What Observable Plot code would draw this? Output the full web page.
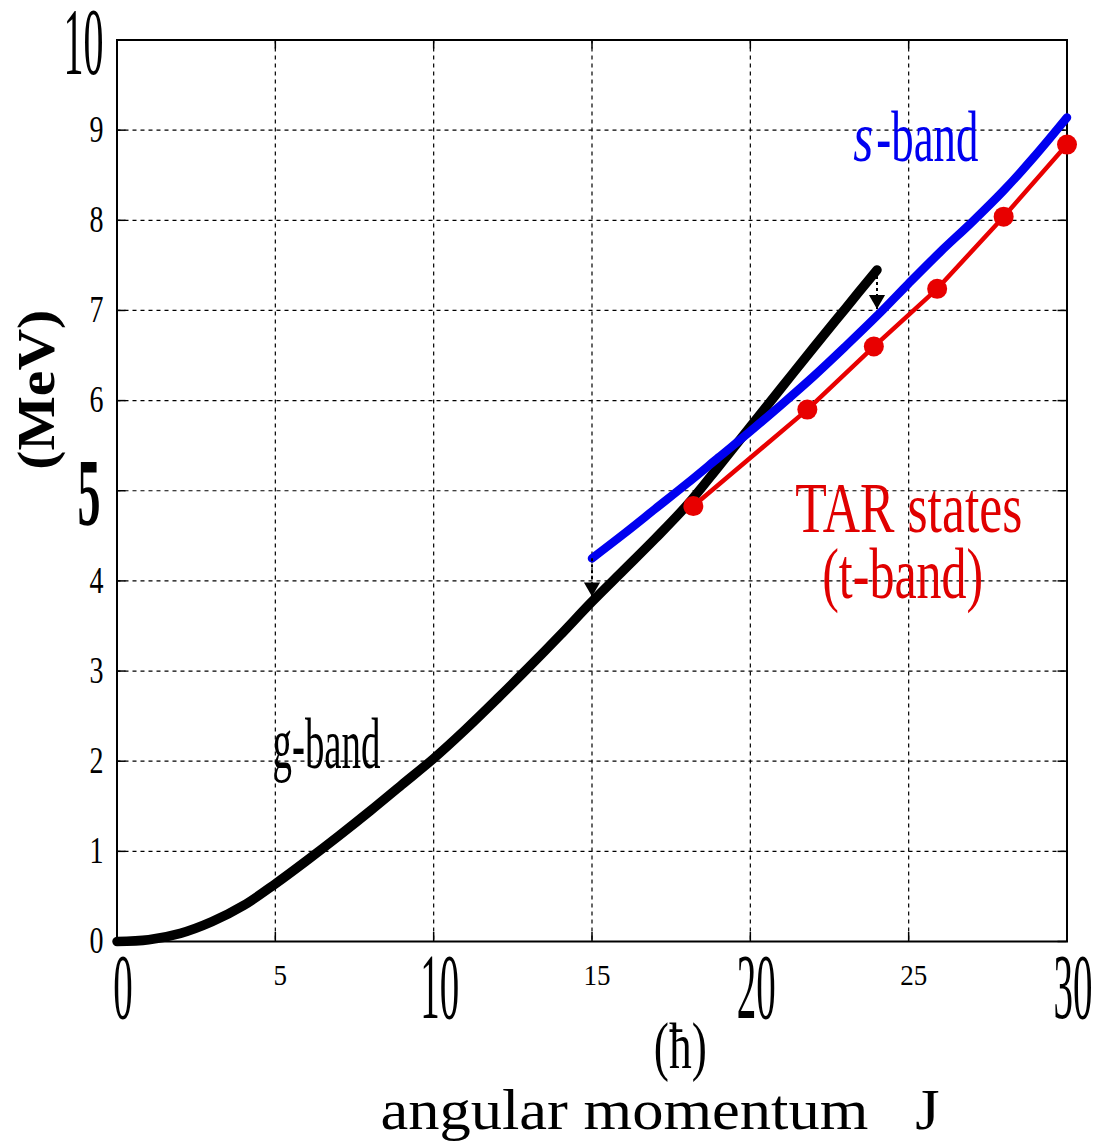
<!DOCTYPE html>
<html><head><meta charset="utf-8">
<script src="https://cdn.jsdelivr.net/npm/d3@7"></script>
<script src="https://cdn.jsdelivr.net/npm/@observablehq/plot@0.6"></script>
<style>body{margin:0;background:#fff}</style>
</head><body><div id="chart"></div>
<script>
// ---- data ----
const gBandJ = [0,1,2,3,4,5,6,7,8,9,10,11,12,13,14,15,16,17,18,19,20,21,22,23,24];
const gBandE = [0,0.02,0.09,0.22,0.4,0.64,0.9,1.17,1.45,1.74,2.03,2.35,2.69,3.04,3.4,3.77,4.12,4.47,4.84,5.27,5.71,6.15,6.59,7.02,7.45];
const sBandJ = [15,16,17,18,19,20,21,22,23,24,25,26,27,28,29,30];
const sBandE = [4.25,4.52,4.8,5.08,5.37,5.66,5.96,6.27,6.6,6.94,7.3,7.65,7.98,8.33,8.72,9.14];
const tarJ = [18.2,21.8,23.9,25.9,28.0,30.0];
const tarE = [4.83,5.9,6.6,7.24,8.04,8.84];
const arrowJ = [15,24];
const arrowFrom = [4.25,7.45];
const arrowTo = [3.82,7.01];
const xTicks = [0,5,10,15,20,25,30];
const xGrid = [5,10,15,20,25];
const yTicks = [0,1,2,3,4,5,6,7,8,9,10];
const yGrid = [1,2,3,4,5,6,7,8,9];
const xBigLabels = [0,10,20,30];
const xSmallLabels = [5,15,25];
const ySmallLabels = [0,1,2,3,4,6,7,8,9];
const yBigLabels = [10];
const yBoldLabels = [5];
const annotText = ["g-band","TAR states","(t-band)"];
const annotJ = [4.91,21.42,22.27];
const annotE = [1.92,4.54,3.81];
const annotColor = ["#000","#e00000","#e00000"];

const gBand = gBandJ.map((J,i)=>({J,E:gBandE[i]}));
const sBand = sBandJ.map((J,i)=>({J,E:sBandE[i]}));
const tar = tarJ.map((J,i)=>({J,E:tarE[i]}));
const arrows = arrowJ.map((J,i)=>({J,from:arrowFrom[i],to:arrowTo[i]}));
const annots = annotText.map((t,i)=>({t,J:annotJ[i],E:annotE[i],c:annotColor[i]}));

const innerH = 1144-39.5-203, innerW = 1095-116.5-28.5;
const grid = {stroke:"#000", strokeOpacity:1, strokeWidth:1.2, strokeDasharray:"4,4"};
const tk = {stroke:"#000", strokeWidth:1.5};

const svg = Plot.plot({
  width:1095, height:1144,
  marginLeft:116.5, marginRight:28.5, marginTop:39.5, marginBottom:203,
  x:{domain:[0,30], axis:null},
  y:{domain:[0,10], axis:null},
  style:{background:"#fff", fontFamily:"'Liberation Serif','Times New Roman',serif", color:"#000"},
  marks:[
    Plot.ruleX(xGrid, {x:d=>d, ...grid}),
    Plot.ruleY(yGrid, {y:d=>d, ...grid}),
    Plot.ruleX(xTicks, {x:d=>d, ...tk, insetTop:innerH-9}),
    Plot.ruleX(xTicks, {x:d=>d, ...tk, insetBottom:innerH-9}),
    Plot.ruleY(yTicks, {y:d=>d, ...tk, insetRight:innerW-9}),
    Plot.ruleY(yTicks, {y:d=>d, ...tk, insetLeft:innerW-9}),
    Plot.frame({stroke:"#000", strokeWidth:2}),
    Plot.line(gBand, {x:"J", y:"E", stroke:"#000", strokeWidth:9.5, curve:"catmull-rom"}),
    Plot.line(sBand, {x:"J", y:"E", stroke:"#0000f0", strokeWidth:8.5, curve:"catmull-rom"}),
    Plot.line(tar, {x:"J", y:"E", stroke:"#e80000", strokeWidth:4.5}),
    Plot.dot(tar, {x:"J", y:"E", r:10, fill:"#e80000"}),
    Plot.link(arrows, {x1:"J", x2:"J", y1:"from", y2:"to", stroke:"#000", strokeWidth:2, strokeDasharray:"3,3"}),
    Plot.dot(arrows, {x:"J", y:"to", symbol:"triangle", rotate:180, r:6, fill:"#000", dy:-10}),
    // tick labels (distinct font sizes identify them for the width pass below)
    Plot.text(xBigLabels, {x:d=>d, text:d=>String(d), frameAnchor:"bottom", lineAnchor:"middle", dy:47, dx:6, fontSize:93}),
    Plot.text(xSmallLabels, {x:d=>d, text:d=>String(d), frameAnchor:"bottom", lineAnchor:"middle", dy:34, dx:5, fontSize:30}),
    Plot.text(ySmallLabels, {y:d=>d, text:d=>String(d), frameAnchor:"left", textAnchor:"end", lineAnchor:"middle", dx:-13.5, fontSize:37}),
    Plot.text(yBigLabels, {y:d=>d, text:d=>String(d), frameAnchor:"left", textAnchor:"end", lineAnchor:"middle", dx:-13.5, dy:3, fontSize:96}),
    Plot.text(yBoldLabels, {y:d=>d, text:d=>String(d), frameAnchor:"left", textAnchor:"end", lineAnchor:"middle", dx:-16.5, dy:3.5, fontSize:95, fontWeight:"bold"}),
    // annotations
    Plot.text(annots, {x:"J", y:"E", text:"t", fill:"c", textAnchor:"start", lineAnchor:"bottom", fontSize:71}),
    Plot.text(["s"], {x:[23.25], y:[8.66], text:d=>d, fill:"#0000f0", fontStyle:"italic", textAnchor:"start", lineAnchor:"bottom", fontSize:71}),
    Plot.text(["-band"], {x:[23.98], y:[8.66], text:d=>d, fill:"#0000f0", textAnchor:"start", lineAnchor:"bottom", fontSize:71}),
    Plot.text(["(\u0127)"], {x:[17.79], text:d=>d, frameAnchor:"bottom", textAnchor:"middle", lineAnchor:"bottom", dy:126, fontSize:66}),
    Plot.text(["angular momentum\u00a0\u00a0\u00a0J"], {x:[8.32], text:d=>d, frameAnchor:"bottom", textAnchor:"start", lineAnchor:"bottom", dy:187, fontSize:56}),
    Plot.text(["(MeV)"], {y:[6.12], text:d=>d, frameAnchor:"left", textAnchor:"middle", lineAnchor:"bottom", rotate:-90, dx:-63.5, fontSize:53, fontWeight:"bold"})
  ]
});
document.getElementById("chart").appendChild(svg);

// widths that mimic the condensed / stretched glyphs of the original
const perCharBySize = {"93":19.5, "30":13.5, "37":14, "96":20, "95":23};
const widthByText = {"g-band":108, "TAR states":227, "(t-band)":161, "s":20, "-band":102, "(\u0127)":53, "angular momentum\u00a0\u00a0\u00a0J":559, "(MeV)":160};
for (const t of svg.querySelectorAll("text")) {
  const txt = t.textContent;
  let w = null;
  if (widthByText[txt] != null) w = widthByText[txt];
  else {
    const g = t.closest("[font-size]");
    const fs = g ? String(parseFloat(g.getAttribute("font-size"))) : null;
    if (fs && perCharBySize[fs] != null && /^\d+$/.test(txt)) w = perCharBySize[fs] * txt.length;
  }
  if (w != null) {
    t.setAttribute("textLength", w);
    t.setAttribute("lengthAdjust", "spacingAndGlyphs");
  }
}
</script>
</body></html>
